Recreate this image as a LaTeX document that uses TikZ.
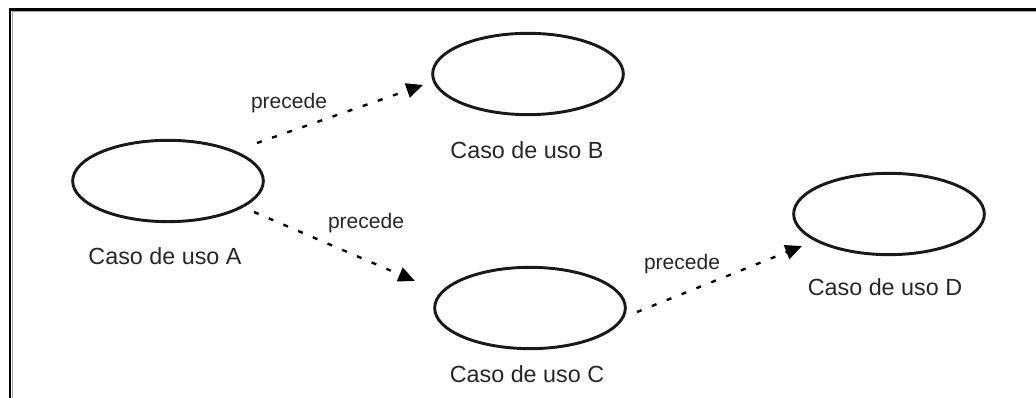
\documentclass[tikz,border=0pt]{standalone}
\usepackage{fontspec}
\setmainfont{Liberation Sans}
\usetikzlibrary{shapes.geometric,arrows.meta}
\tikzset{
  ucase/.style={draw=black!90, line width=2.2pt, ellipse, inner sep=0pt,
    minimum width=143pt, minimum height=61pt},
  uclabel/.style={text=black!85, font=\fontsize{17.5}{20}\selectfont},
  precede/.style={line width=1.8pt, dash pattern=on 3.75pt off 8.25pt,
    -{Triangle[length=12.5pt,width=11pt]}},
  rellabel/.style={text=black!85, font=\fontsize{15.75}{18}\selectfont}
}
\begin{document}
\begin{tikzpicture}[x=0.75pt,y=0.75pt]
\useasboundingbox (0,0) rectangle (1036,398);
% frame
\draw[gray!70, line width=0.75pt] (1036,386) -- (12.5,386) -- (12.5,0);
\draw[line width=2pt] (1036,388.5) -- (10,388.5) -- (10,0);
% use cases
\node[ucase] (A) at (168,217) {};
\node[ucase] (B) at (528,324) {};
\node[ucase] (C) at (530,90) {};
\node[ucase] (D) at (889,184) {};
\node[uclabel] (labA) at (165,142) {Caso de uso A};
\node[uclabel] (labB) at (527,248) {Caso de uso B};
\node[uclabel] (labC) at (527,24) {Caso de uso C};
\node[uclabel] (labD) at (885,111) {Caso de uso D};
% relations
\draw[precede] ([shift={(89,38)}]A.center) -- ([shift={(-105,-11)}]B.center);
\draw[precede] ([shift={(86,-31)}]A.center) -- ([shift={(-115,27)}]C.center);
\draw[precede] ([shift={(107,-4)}]C.center) -- ([shift={(-87,-32)}]D.center);
\node[rellabel] (pAB) at (289,295) {precede};
\node[rellabel] (pAC) at (366,175) {precede};
\node[rellabel] (pCD) at (682,134) {precede};
\end{tikzpicture}
\end{document}
